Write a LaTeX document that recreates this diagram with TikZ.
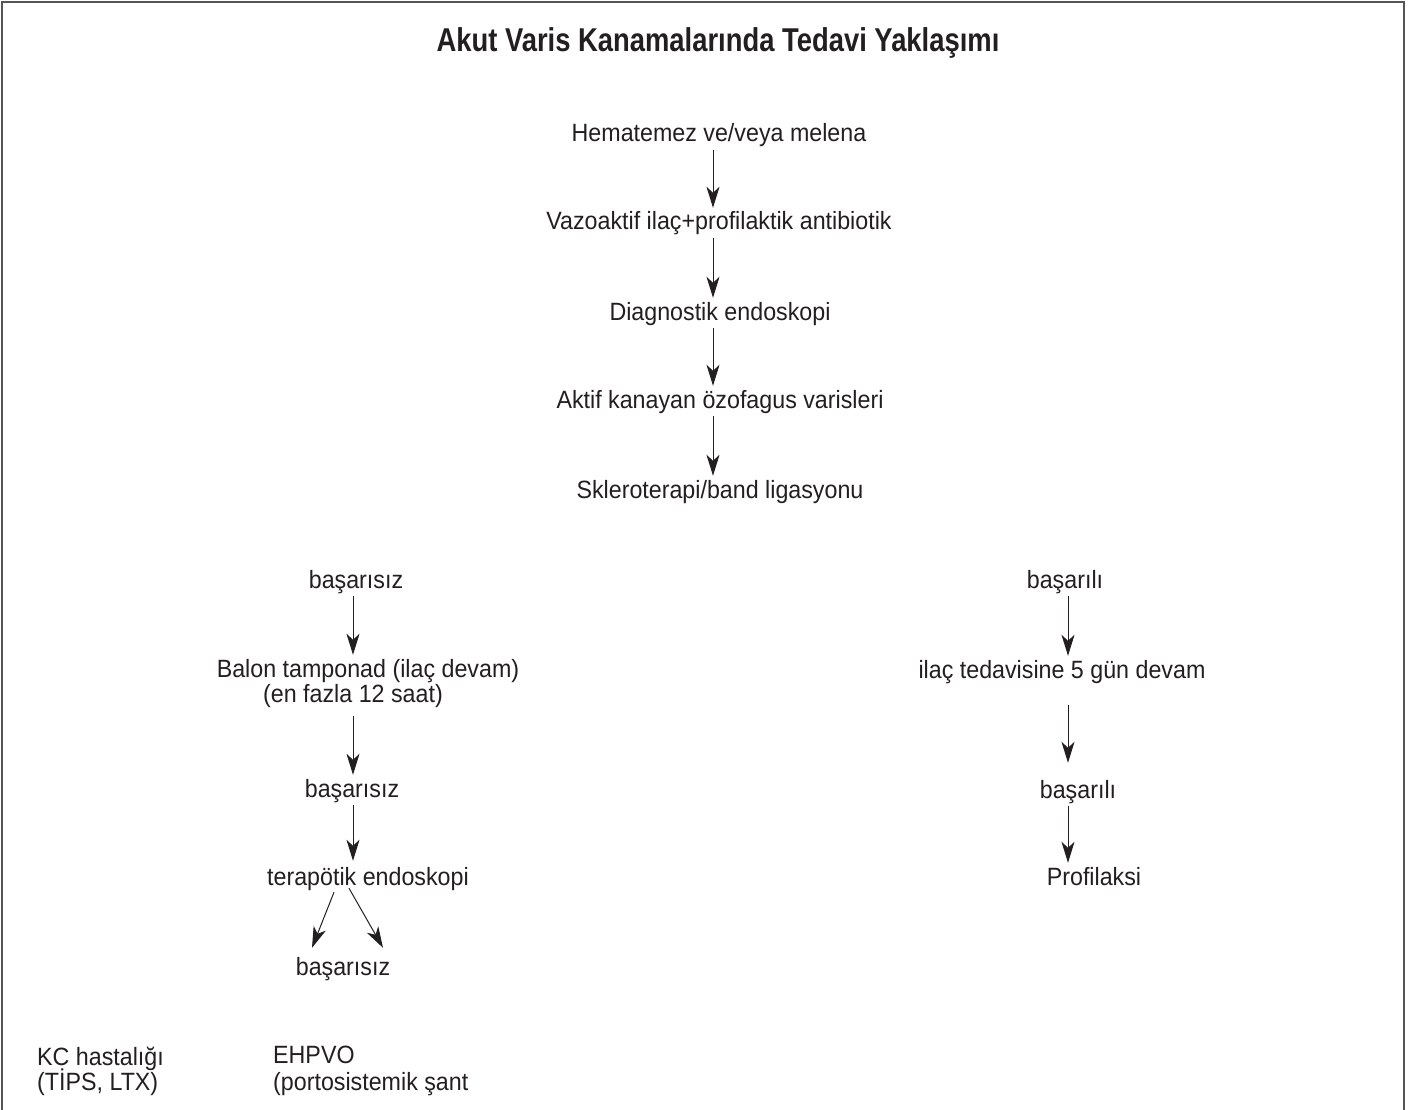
\documentclass[tikz,border=0pt]{standalone}
\usepackage{fontspec}
\setmainfont{Liberation Sans}[FakeStretch=0.93]
\newfontfamily\titlefont{Liberation Sans}[FakeStretch=0.83]
\usetikzlibrary{arrows.meta,calc}
\definecolor{ink}{HTML}{231F20}
\definecolor{frame}{HTML}{555555}
\tikzset{
  txt/.style={inner sep=0pt, anchor=base, text height=17pt, text depth=6pt,
    font=\fontsize{25}{29}\selectfont, text=ink},
  lefttxt/.style={txt, anchor=base west},
  arr/.style={draw=ink, line width=1pt,
    -{Stealth[length=21pt,width=13pt,inset=6pt]},
    shorten <=2pt, shorten >=5pt},
}
\begin{document}
\begin{tikzpicture}[x=1pt,y=-1pt]
\useasboundingbox (0,0) rectangle (1414,1110);
\draw[frame, line width=2pt] (2,1120) -- (2,2) -- (1404,2) -- (1404,1120);

\node[inner sep=0pt, anchor=base, text=ink, font=\titlefont\bfseries\fontsize{33}{37}\selectfont] (title) at (718,52) {Akut Varis Kanamalarında Tedavi Yaklaşımı};

\coordinate (cm) at (713,0);
\coordinate (cl) at (353,0);
\coordinate (cr) at (1068,0);

\node[txt] (n1) at (719,142) {Hematemez ve/veya melena};
\node[txt] (n2) at (719,230) {Vazoaktif ilaç+profilaktik antibiotik};
\node[txt] (n3) at (720,320) {Diagnostik endoskopi};
\node[txt] (n4) at (720,408) {Aktif kanayan özofagus varisleri};
\node[txt] (n5) at (720,498) {Skleroterapi/band ligasyonu};

\draw[arr] (n1.south -| cm) -- (n2.north -| cm);
\draw[arr] (n2.south -| cm) -- (n3.north -| cm);
\draw[arr] (n3.south -| cm) -- (n4.north -| cm);
\draw[arr] (n4.south -| cm) -- (n5.north -| cm);

\node[txt] (l1) at (356,588) {başarısız};
\node[txt] (l2) at (368,677) {Balon tamponad (ilaç devam)};
\node[txt] (l2b) at (353,702) {(en fazla 12 saat)};
\node[txt] (l3) at (352,797) {başarısız};
\node[txt] (l4) at (368,885) {terapötik endoskopi};
\node[txt] (l5) at (343,975) {başarısız};

\draw[arr] (l1.south -| cl) -- (l2.north -| cl);
\draw[arr, shorten <=8pt] (l2b.south -| cl) -- (l3.north -| cl);
\draw[arr, shorten >=7pt] (l3.south -| cl) -- (l4.north -| cl);
\draw[arr, shorten <=0pt, shorten >=0pt] ($(l4.south)+(-34,1)$) -- ($(l5.north)+(-31,-10)$);
\draw[arr, shorten <=0pt, shorten >=0pt] ($(l4.south)+(-19,-3)$) -- ($(l5.north)+(40,-10)$);

\node[txt] (r1) at (1065,588) {başarılı};
\node[txt] (r2) at (1062,678) {ilaç tedavisine 5 gün devam};
\node[txt] (r3) at (1078,798) {başarılı};
\node[txt] (r4) at (1094,885) {Profilaksi};

\draw[arr] (r1.south -| cr) -- (r2.north -| cr);
\draw[arr, shorten <=21pt, shorten >=18pt] (r2.south -| cr) -- (r3.north -| cr);
\draw[arr] (r3.south -| cr) -- (r4.north -| cr);

\node[lefttxt] (k1) at (37,1065) {KC hastalığı};
\node[lefttxt] (k2) at (37,1090) {(TİPS, LTX)};
\node[lefttxt] (e1) at (273,1063) {EHPVO};
\node[lefttxt] (e2) at (273,1090) {(portosistemik şant};
\end{tikzpicture}
\end{document}
